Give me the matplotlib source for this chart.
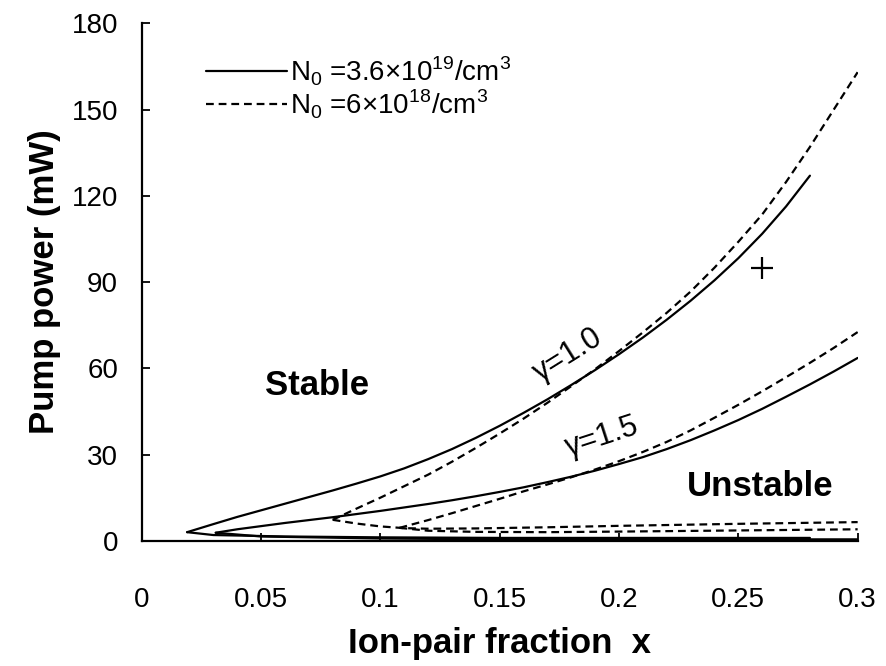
import matplotlib
matplotlib.use('Agg')
import matplotlib.pyplot as plt

plt.rcParams['font.family'] = ['Liberation Sans', 'DejaVu Sans']
plt.rcParams['mathtext.fontset'] = 'custom'
plt.rcParams['mathtext.rm'] = 'Liberation Sans'

# gamma = 1.0, N0 = 3.6e19 (solid)
g1_solid_up_x = [0.019, 0.03, 0.04, 0.05, 0.06, 0.07, 0.08, 0.09, 0.10, 0.11, 0.12, 0.13, 0.14,
                 0.15, 0.16, 0.17, 0.18, 0.19, 0.20, 0.21, 0.22, 0.23, 0.24, 0.25, 0.26, 0.27, 0.28]
g1_solid_up_y = [3, 5.8, 8.3, 10.6, 12.9, 15.2, 17.5, 19.9, 22.4, 25.2, 28.4, 31.9, 35.8,
                 40, 44.5, 49.2, 54.2, 59.4, 64.9, 70.7, 76.9, 83.5, 90.6, 98.3, 106.8, 116.3, 127]
g1_solid_lo_x = [0.019, 0.03, 0.06, 0.10, 0.15, 0.20, 0.25, 0.28]
g1_solid_lo_y = [3, 2.0, 1.5, 1.2, 1.0, 1.0, 1.0, 1.0]

# gamma = 1.0, N0 = 6e18 (dashed)
g1_dash_up_x = [0.08, 0.09, 0.10, 0.11, 0.12, 0.13, 0.14, 0.15, 0.16, 0.17, 0.18, 0.19,
                0.20, 0.21, 0.22, 0.23, 0.24, 0.25, 0.26, 0.27, 0.28, 0.29, 0.30]
g1_dash_up_y = [7.3, 11.2, 15, 19, 23, 27.5, 32.3, 37.3, 42.5, 48, 53.8, 59.7,
                66, 72.5, 79.3, 86.7, 95, 104, 113.5, 124.8, 137, 150, 163]
g1_dash_lo_x = [0.08, 0.09, 0.10, 0.11, 0.12, 0.14, 0.17, 0.20, 0.25, 0.30]
g1_dash_lo_y = [7.3, 6.0, 5.0, 4.4, 4.2, 4.3, 4.7, 5.2, 5.9, 6.5]

# gamma = 1.5, N0 = 3.6e19 (solid)
g15_solid_up_x = [0.031, 0.04, 0.05, 0.06, 0.07, 0.08, 0.09, 0.10, 0.11, 0.12, 0.13, 0.14, 0.15,
                  0.16, 0.17, 0.18, 0.19, 0.20, 0.21, 0.22, 0.23, 0.24, 0.25, 0.26, 0.27, 0.28,
                  0.29, 0.30]
g15_solid_up_y = [2.8, 4.0, 5.1, 6.2, 7.2, 8.2, 9.3, 10.4, 11.6, 12.8, 14.1, 15.5, 17,
                  18.6, 20.4, 22.3, 24.4, 26.7, 29.1, 31.9, 35.0, 38.4, 42, 45.9, 50.1, 54.4,
                  58.9, 63.6]
g15_solid_lo_x = [0.031, 0.05, 0.10, 0.15, 0.20, 0.25, 0.30]
g15_solid_lo_y = [2.8, 1.5, 0.8, 0.5, 0.5, 0.5, 0.5]

# gamma = 1.5, N0 = 6e18 (dashed)
g15_dash_up_x = [0.108, 0.12, 0.13, 0.14, 0.15, 0.16, 0.17, 0.18, 0.19, 0.20, 0.21, 0.22,
                 0.23, 0.24, 0.25, 0.26, 0.27, 0.28, 0.29, 0.30]
g15_dash_up_y = [4.5, 7.2, 9.6, 12.1, 14.6, 17.2, 19.6, 22.1, 24.8, 27.7, 30.9, 34.4,
                 38.4, 42.8, 47.3, 52, 56.9, 61.9, 67.1, 72.6]
g15_dash_lo_x = [0.108, 0.12, 0.14, 0.17, 0.20, 0.25, 0.30]
g15_dash_lo_y = [4.5, 3.5, 3.1, 3.0, 3.2, 3.6, 4.0]

cross_x = [0.26]
cross_y = [95]

xtick_vals = [0, 0.05, 0.1, 0.15, 0.2, 0.25, 0.3]
xtick_labels = ['0', '0.05', '0.1', '0.15', '0.2', '0.25', '0.3']
ytick_vals = [0, 30, 60, 90, 120, 150, 180]

labels = [r'N$_0$ =3.6$\times$10$^{19}$/cm$^3$', r'N$_0$ =6$\times$10$^{18}$/cm$^3$']

fig = plt.figure(figsize=(8.86, 6.66), dpi=100)
ax = fig.add_axes([0.160, 0.188, 0.808, 0.777])

solid = dict(color='black', lw=1.6, solid_capstyle='round', solid_joinstyle='round')
dashed = dict(color='black', lw=1.6, linestyle=(0, (3.5, 2.2)))

h1, = ax.plot(g1_solid_up_x, g1_solid_up_y, **solid)
ax.plot(g1_solid_lo_x, g1_solid_lo_y, **solid)
ax.plot(g15_solid_up_x, g15_solid_up_y, **solid)
ax.plot(g15_solid_lo_x, g15_solid_lo_y, **solid)

h2, = ax.plot(g1_dash_up_x, g1_dash_up_y, **dashed)
ax.plot(g1_dash_lo_x, g1_dash_lo_y, **dashed)
ax.plot(g15_dash_up_x, g15_dash_up_y, **dashed)
ax.plot(g15_dash_lo_x, g15_dash_lo_y, **dashed)

ax.plot(cross_x, cross_y, marker='+', color='black', ms=16, mew=1.6, linestyle='none')

ax.text(0.0733, 53.9, 'Stable', fontsize=25, fontweight='bold', ha='center', va='center')
ax.text(0.259, 18.8, 'Unstable', fontsize=25, fontweight='bold', ha='center', va='center')
ax.text(0.1785, 64.6, 'γ=1.0', fontsize=22, rotation=32, ha='center', va='center')
ax.text(0.193, 36, 'γ=1.5', fontsize=22, rotation=18, ha='center', va='center')

ax.legend([h1, h2], labels, loc='upper left', bbox_to_anchor=(0.09, 0.94),
          frameon=False, fontsize=20, handlelength=2.9, handletextpad=0.1,
          labelspacing=0.0, borderpad=0, borderaxespad=0)

ax.set_xlim(0, 0.3)
ax.set_ylim(0, 180)
ax.set_xticks(xtick_vals)
ax.set_xticklabels(xtick_labels)
ax.set_yticks(ytick_vals)
ax.tick_params(axis='both', direction='in', length=6, width=1.3, labelsize=20)
ax.tick_params(axis='x', pad=33)
ax.tick_params(axis='y', pad=17)

for s in ['top', 'right']:
    ax.spines[s].set_visible(False)
for s in ['left', 'bottom']:
    ax.spines[s].set_linewidth(1.6)

ax.set_xlabel('Ion-pair fraction  x', fontsize=25, fontweight='bold', labelpad=10)
ax.set_ylabel('Pump power (mW)', fontsize=25, fontweight='bold', labelpad=8)

fig.savefig('out.png', dpi=100)
